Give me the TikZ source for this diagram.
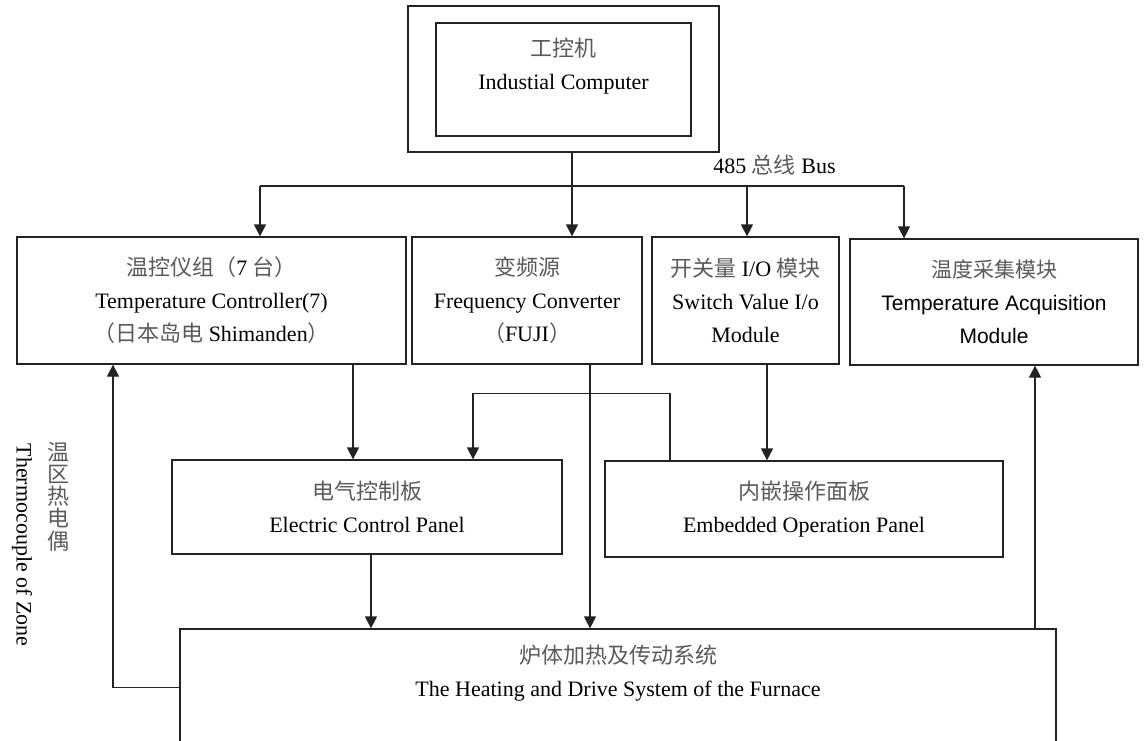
\documentclass[tikz,border=0pt]{standalone}
\usepackage{fontspec}
\setmainfont{Liberation Serif}
\setsansfont{Liberation Sans}
\newfontfamily\cjk{Noto Sans CJK SC}
\usepackage{tikz}
\usetikzlibrary{
	positioning,
	arrows.meta,
	calc
}
\definecolor{LineGray}{RGB}{35,35,35}
\definecolor{HanGray}{RGB}{90,90,90}
\newcommand{\han}[1]{{\cjk\color{HanGray}#1}}

\begin{document}
\begin{tikzpicture}[
	x=0.5pt,
	y=-0.5pt,
	font=\fontsize{11}{16.5}\selectfont,
	box/.style={
		draw=LineGray,
		line width=0.6pt,
		inner sep=0pt,
		align=center
	},
	link/.style={
		draw=LineGray,
		line width=0.6pt
	},
	arr/.style={
		link,
		-{Triangle[width=6pt,length=6pt]}
	}
	]
	
	\useasboundingbox (0,0) rectangle (1144,740);
	\clip (0,0) rectangle (1144,740);
	
	\node[
	box,
	minimum width=155.5pt,
	minimum height=73pt
	] (cab) at (563.5,79) {};
	
	\node[
	box,
	minimum width=127.5pt,
	minimum height=56.5pt
	] (ipc) at (563.5,79.5) {};
	
	\node[align=center] (ipctext) at (563.5,66) {\han{工控机}\\Industial Computer};
	
	\node[
	box,
	minimum width=194.5pt,
	minimum height=63.5pt
	] (tc) at (211.5,300.5) {\han{温控仪组（}7 \han{台）}\\Temperature Controller(7)\\\han{（日本岛电} Shimanden\han{）}};
	
	\node[
	box,
	minimum width=115pt,
	minimum height=63.5pt
	] (fc) at (527,300.5) {\han{变频源}\\Frequency Converter\\\han{（}FUJI\han{）}};
	
	\node[
	box,
	minimum width=93.5pt,
	minimum height=63.5pt
	] (sw) at (745.5,300.5) {\han{开关量} I/O \han{模块}\\Switch Value I/o\\Module};
	
	\node[
	box,
	font=\sffamily\fontsize{10.5}{16.5}\selectfont,
	minimum width=144pt,
	minimum height=63pt
	] (tam) at (994,302) {\han{温度采集模块}\\Temperature Acquisition\\Module};
	
	\node[
	box,
	minimum width=195pt,
	minimum height=47pt
	] (ecp) at (367,507) {\han{电气控制板}\\Electric Control Panel};
	
	\node[
	box,
	minimum width=199pt,
	minimum height=48pt
	] (eop) at (804,509) {\han{内嵌操作面板}\\Embedded Operation Panel};
	
	\node[
	box,
	minimum width=438pt,
	minimum height=75.5pt
	] (heat) at (618,704.5) {};
	
	\node[align=center] (heattext) at (618,673.5) {\han{炉体加热及传动系统}\\The Heating and Drive System of the Furnace};
	
	\node (buslabel) at (774.5,165) {485 \han{总线} Bus};
	
	\node[
	align=center,
	font=\cjk\fontsize{11}{11.1}\selectfont,
	text=HanGray
	] (zonezh) at (58,496.5) {温\\区\\热\\电\\偶};
	
	\node[rotate=-90] (zoneen) at (22,545) {Thermocouple of Zone};
	
	\coordinate (bus) at (572,186);
	\coordinate (busL) at (260,186);
	\coordinate (busR) at (904,186);
	
	\draw[link] (cab.south -| bus) -- (bus);
	\draw[link] (busL) -- (busR);
	\draw[arr] (busL) -- (tc.north -| busL);
	\draw[arr] (bus) -- (fc.north -| bus);
	\draw[arr] (bus -| 747,0) -- (sw.north -| 747,0);
	\draw[arr] (busR) -- (tam.north -| busR);
	
	\draw[arr] (tc.south -| 353,0) -- (ecp.north -| 353,0);
	\draw[arr] (fc.south -| 590,0) -- (heat.north -| 590,0);
	\draw[arr] (sw.south -| 767,0) -- (eop.north -| 767,0);
	\draw[arr] (eop.north -| 670,0) -- ++(0,-67) -| (ecp.north -| 473,0);
	\draw[arr] (ecp.south -| 371,0) -- (heat.north -| 371,0);
	\draw[arr] ($(heat.north west)+(0,59)$) -| (tc.south -| 113,0);
	\draw[arr] (heat.north -| 1035,0) -- (tam.south -| 1035,0);
	
\end{tikzpicture}
\end{document}
